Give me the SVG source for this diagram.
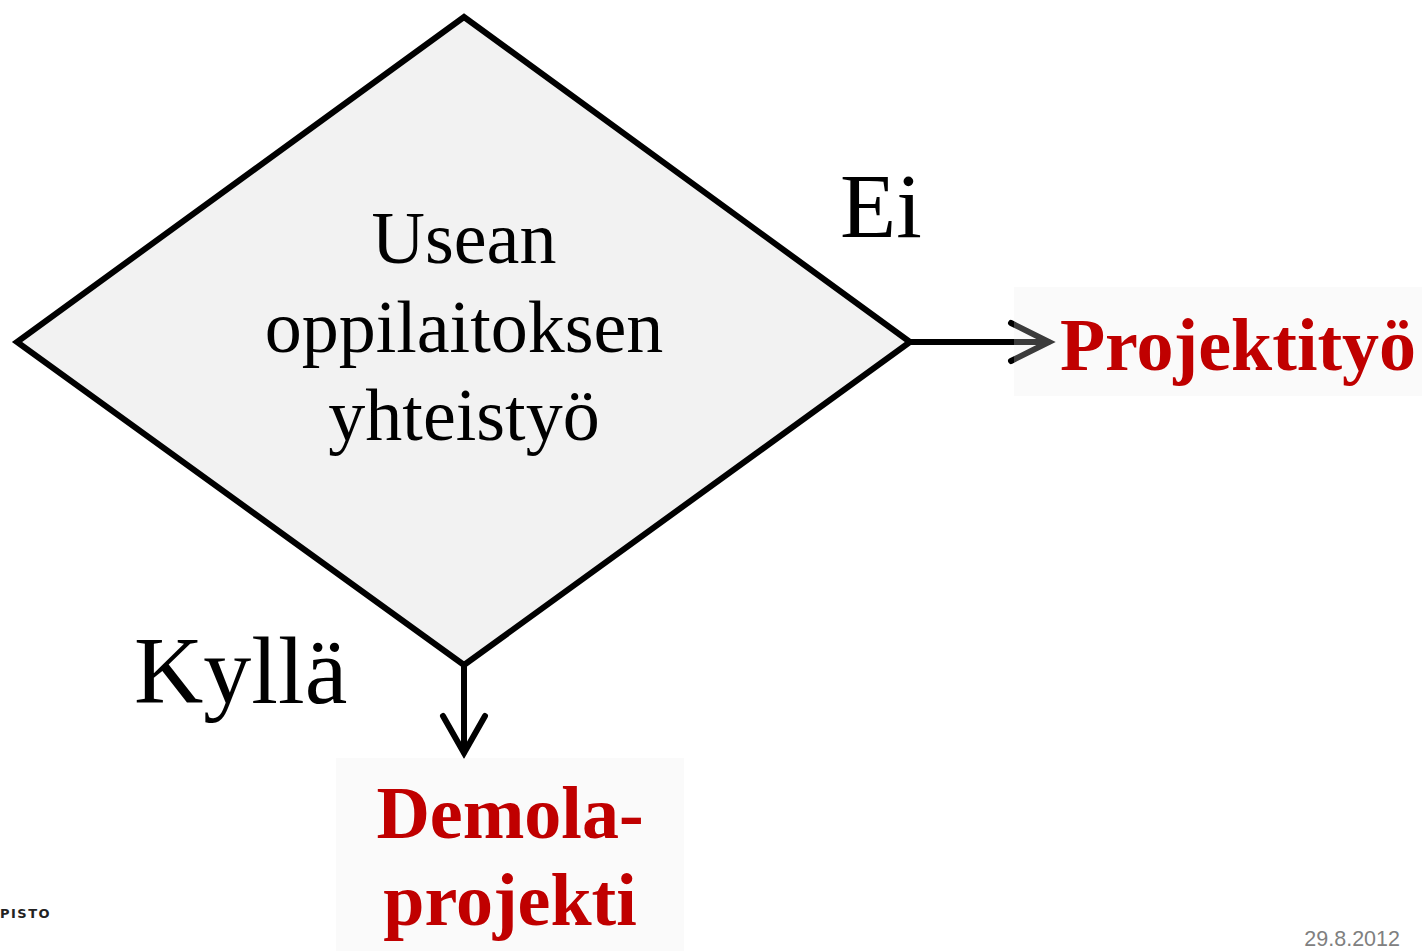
<svg xmlns="http://www.w3.org/2000/svg" width="1422" height="951" viewBox="0 0 1422 951">
<style>
.lbl{font-family:"Liberation Serif","Times New Roman",serif;fill:#000}
.out{font-family:"Liberation Serif","Times New Roman",serif;font-weight:bold;fill:#c00000;font-size:74px;text-anchor:middle}
.conn{stroke:#000;stroke-width:6;fill:none;stroke-linecap:round;stroke-linejoin:miter}
.box{fill:#ececec;fill-opacity:0.25}
</style>
<rect width="1422" height="951" fill="#fff"/>
<g id="decision">
<polygon points="464,17 910,342 464,665 17,342" fill="#f2f2f2" stroke="#000" stroke-width="6" stroke-linejoin="miter"/>
<text class="lbl" font-size="74" text-anchor="middle" x="464" y="263">Usean</text>
<text class="lbl" font-size="74" text-anchor="middle" x="464" y="352">oppilaitoksen</text>
<text class="lbl" font-size="74" text-anchor="middle" x="464" y="440">yhteistyö</text>
</g>
<g id="connectors">
<line class="conn" x1="910" y1="342" x2="1048" y2="342"/>
<polyline class="conn" points="1011,323 1049,342 1011,361"/>
<line class="conn" x1="464" y1="665" x2="464" y2="752"/>
<polyline class="conn" points="443,716 464,753 485,716"/>
<text class="lbl" font-size="92" x="840" y="237">Ei</text>
<text class="lbl" font-size="96" x="134" y="703">Kyllä</text>
</g>
<g id="projektityo">
<rect class="box" x="1014" y="287" width="408" height="109"/>
<text class="out" x="1238" y="370">Projektityö</text>
</g>
<g id="demola">
<rect class="box" x="336" y="758" width="348" height="193"/>
<text class="out" x="510" y="838">Demola-</text>
<text class="out" x="510" y="925">projekti</text>
</g>
<g id="footer">
<text x="0" y="918" font-family="'DejaVu Sans',sans-serif" font-weight="bold" font-size="13" letter-spacing="1.5" fill="#222">PISTO</text>
<text x="1400" y="946" text-anchor="end" font-family="'Liberation Sans',Arial,sans-serif" font-size="21.5" fill="#808080">29.8.2012</text>
</g>
</svg>
